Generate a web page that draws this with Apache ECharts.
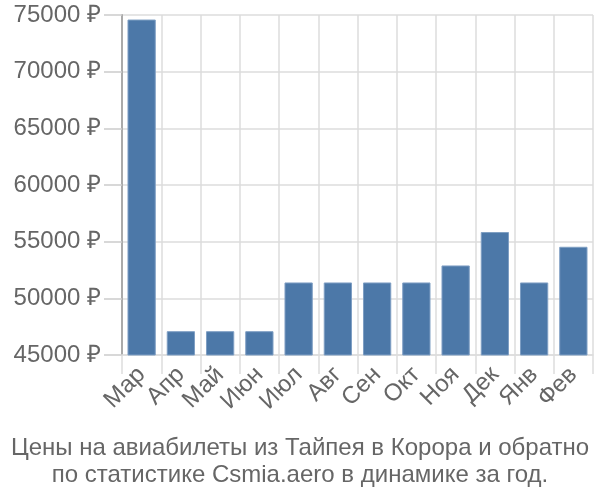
<!DOCTYPE html>
<html><head><meta charset="utf-8">
<script src="https://cdn.jsdelivr.net/npm/echarts@6/dist/echarts.min.js"></script>
<style>html,body{margin:0;padding:0;background:#fff}#c{width:600px;height:500px}</style>
</head><body><div id="c"></div>
<script>
var months = ['Мар','Апр','Май','Июн','Июл','Авг','Сен','Окт','Ноя','Дек','Янв','Фев'];
var prices = [74600, 47100, 47100, 47100, 51400, 51400, 51400, 51400, 52900, 55850, 51400, 54550];
var yMin = 45000, yMax = 75000, yStep = 5000;
var titleText = 'Цены на авиабилеты из Тайпея в Корора и обратно\nпо статистике Csmia.aero в динамике за год.';

var chart = echarts.init(document.getElementById('c'), null, {renderer:'canvas'});
chart.setOption({
  animation:false,
  textStyle:{fontFamily:'Liberation Sans, Arial, sans-serif'},
  title:{text:titleText, left:'center', bottom:6,
    textStyle:{fontSize:24, fontWeight:'normal', color:'#666', lineHeight:27, fontFamily:'Liberation Sans, Arial, sans-serif'}},
  grid:{left:122, right:7, top:15, bottom:145},
  xAxis:{type:'category', data:months,
    axisLine:{show:true, lineStyle:{color:'#ddd', width:1.5}},
    axisTick:{show:true, length:19, lineStyle:{color:'#ddd', width:1.5}},
    splitLine:{show:true, lineStyle:{color:'#ddd', width:1.5}},
    axisLabel:{rotate:45, fontSize:24, color:'#666', margin:16, interval:0}},
  yAxis:{type:'value', min:yMin, max:yMax, interval:yStep,
    axisLine:{show:true, lineStyle:{color:'#aaa', width:2}},
    axisTick:{show:true, length:18, lineStyle:{color:'#ccc', width:1.5}},
    splitLine:{show:true, lineStyle:{color:'#ddd', width:1.5}},
    axisLabel:{fontSize:24, color:'#666', margin:21, formatter:function(v){return v+' ₽';}}},
  series:[{type:'bar', data:prices, barCategoryGap:'28%',
    itemStyle:{color:'#4c78a8', borderColor:'#7f9fc4', borderWidth:1}}]
});
</script></body></html>
